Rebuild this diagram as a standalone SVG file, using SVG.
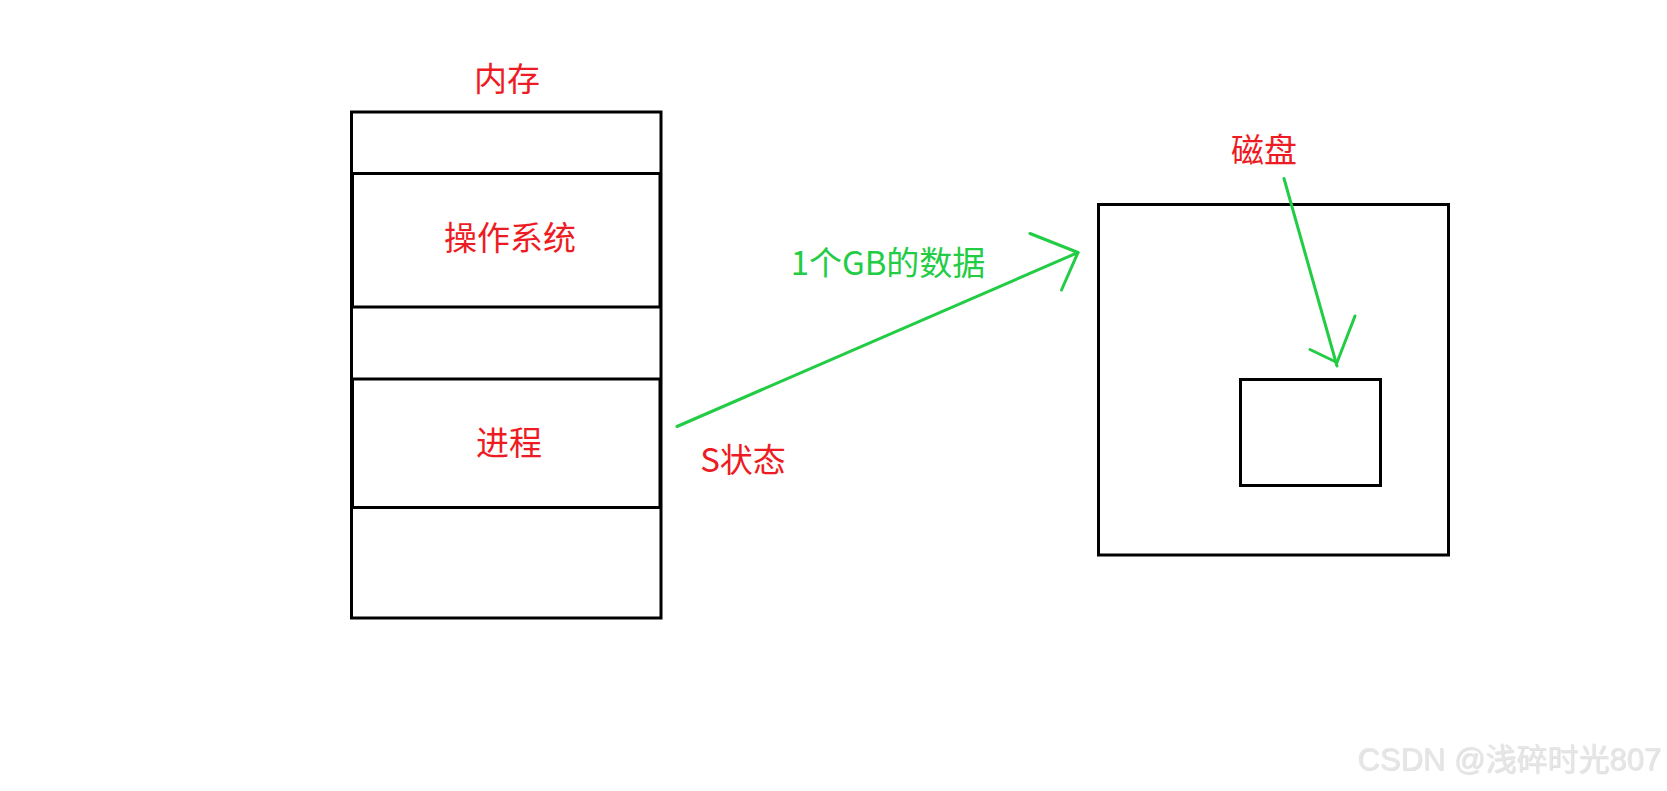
<svg xmlns="http://www.w3.org/2000/svg" width="1667" height="791" viewBox="0 0 1667 791">
<style>
.box{fill:none;stroke:#000;stroke-width:3}
.red{fill:#ed1c24;font-family:"Noto Sans CJK SC","Microsoft YaHei",sans-serif;font-size:33px;text-anchor:middle}
.grn{fill:#22cc44;font-family:"Noto Sans CJK SC","Microsoft YaHei",sans-serif;font-size:33px;text-anchor:middle}
.conn{fill:none;stroke:#22cc44;stroke-width:3;stroke-linecap:round;stroke-linejoin:round}
.wm{fill:#e6e6e6;font-family:"Liberation Sans","Noto Sans CJK SC",sans-serif;font-size:31px;text-anchor:end}
</style>
<defs>
<filter id="emb" x="-5%" y="-20%" width="110%" height="140%">
<feDropShadow dx="0.7" dy="0.7" stdDeviation="0.5" flood-color="#a0a0a0" flood-opacity="0.45"/>
</filter>
</defs>
<rect width="1667" height="791" fill="#fff"/>
<g id="memory">
<text class="red" x="507" y="91">内存</text>
<rect class="box" x="351.5" y="112" width="309.5" height="506"/>
</g>
<g id="os">
<rect class="box" x="352.5" y="173.5" width="307.5" height="133.5"/>
<text class="red" x="510" y="250">操作系统</text>
</g>
<g id="process">
<rect class="box" x="352.5" y="379" width="307.5" height="128.5"/>
<text class="red" x="509" y="454.5">进程</text>
</g>
<g id="state">
<text class="red" x="743" y="472">S状态</text>
</g>
<g id="disk">
<text class="red" x="1264" y="162">磁盘</text>
<rect class="box" x="1098.5" y="204.5" width="350" height="350.5"/>
</g>
<g id="block">
<rect class="box" x="1240.5" y="379.5" width="140" height="106"/>
</g>
<g id="data-label">
<text class="grn" x="888" y="275">1个GB的数据</text>
</g>
<g id="connectors">
<line class="conn" x1="677" y1="426.5" x2="1078" y2="252.5"/>
<polyline class="conn" points="1030,233.5 1078,252.5 1061.5,290"/>
<line class="conn" x1="1284" y1="178.5" x2="1337" y2="366"/>
<polyline class="conn" points="1310,349.5 1337,362.5 1355,316"/>
</g>
<g id="watermark">
<text class="wm" x="1661" y="770" filter="url(#emb)">CSDN @浅碎时光807</text>
</g>
</svg>
